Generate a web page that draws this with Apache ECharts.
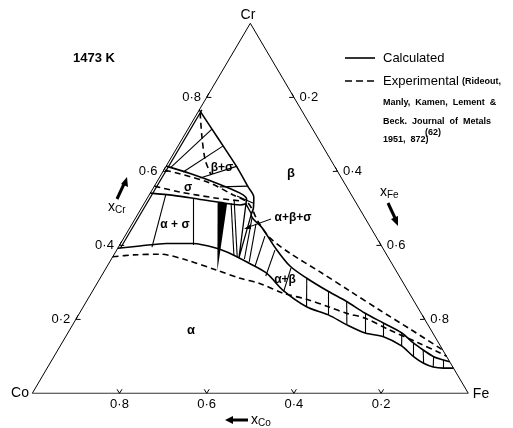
<!DOCTYPE html>
<html><head><meta charset="utf-8">
<script src="https://cdn.jsdelivr.net/npm/echarts@6/dist/echarts.min.js"></script>
<style>html,body{margin:0;padding:0;background:#fff}#c{width:513px;height:428px}</style>
</head><body><div id="c"></div>
<script>
// All compositions are [x_Cr, x_Fe]  (x_Co = 1 - x_Cr - x_Fe)
const ticks = [0.2, 0.4, 0.6, 0.8];
const tickText = ['0·2', '0·4', '0·6', '0·8'];
const triangleEdge = [[0,0],[0,1],[1,0],[0,0]];
// calculated beta boundary (beta / beta+sigma and beta / alpha+beta)
const betaBoundary = [[0.766,0.000],[0.716,0.053],[0.668,0.104],[0.612,0.163],[0.558,0.216],[0.530,0.243],[0.500,0.257],[0.482,0.261],[0.447,0.304],[0.393,0.361],[0.344,0.419],[0.311,0.474],[0.275,0.542],[0.248,0.597],[0.217,0.654],[0.190,0.710],[0.163,0.766],[0.136,0.806],[0.117,0.838],[0.099,0.871],[0.090,0.898],[0.085,0.915]];
// calculated alpha boundary
const alphaBoundary = [[0.392,0.000],[0.398,0.048],[0.405,0.105],[0.405,0.166],[0.392,0.227],[0.374,0.274],[0.351,0.323],[0.324,0.376],[0.279,0.435],[0.234,0.512],[0.212,0.573],[0.185,0.629],[0.163,0.682],[0.153,0.729],[0.128,0.783],[0.099,0.825],[0.081,0.857],[0.071,0.884],[0.068,0.909],[0.068,0.932]];
// calculated sigma phase field
const sigmaUpper = [[0.614,0.000],[0.594,0.065],[0.568,0.139],[0.541,0.206],[0.525,0.229],[0.512,0.234]];
const sigmaLower = [[0.541,0.000],[0.535,0.056],[0.524,0.123],[0.516,0.172],[0.509,0.222],[0.512,0.234]];
const edgeInner = [[0.392,0.006],[0.766,0.006]];
// experimental boundaries
const alphaExp = [[0.369,0.000],[0.374,0.045],[0.376,0.105],[0.360,0.174],[0.333,0.256],[0.311,0.321],[0.297,0.373],[0.271,0.439],[0.254,0.502],[0.234,0.562],[0.216,0.613],[0.203,0.662],[0.171,0.734],[0.136,0.818],[0.109,0.881],[0.100,0.900]];
const betaExp = [[0.603,0.003],[0.572,0.114],[0.536,0.193],[0.514,0.238],[0.463,0.287],[0.420,0.335],[0.379,0.401],[0.328,0.496],[0.276,0.591],[0.225,0.684],[0.174,0.779],[0.117,0.883]];
const sigmaExpLower = [[0.560,0.000],[0.544,0.067],[0.528,0.155],[0.520,0.216]];
const betaSigmaExp = [[0.758,0.006],[0.694,0.042],[0.631,0.081],[0.590,0.115]];
// tie lines
const tieLines = [
  [[0.609,0.012],[0.714,0.055]],[[0.598,0.047],[0.668,0.103]],[[0.582,0.094],[0.614,0.163]],[[0.558,0.151],[0.560,0.215]],[[0.533,0.203],[0.514,0.249]],
  [[0.395,0.077],[0.536,0.038]],[[0.401,0.168],[0.528,0.105]],[[0.368,0.286],[0.520,0.203]],[[0.371,0.277],[0.514,0.199]],
  [[0.474,0.267],[0.363,0.305]],[[0.458,0.284],[0.355,0.320]],
  [[0.425,0.321],[0.344,0.339]],[[0.387,0.363],[0.317,0.377]],[[0.339,0.424],[0.275,0.439]],
  [[0.311,0.474],[0.234,0.512]],[[0.275,0.542],[0.212,0.573]],[[0.248,0.597],[0.185,0.629]],[[0.217,0.654],[0.163,0.682]],
  [[0.190,0.710],[0.153,0.729]],[[0.163,0.766],[0.128,0.783]],[[0.136,0.806],[0.099,0.825]],[[0.117,0.838],[0.081,0.857]],
  [[0.099,0.871],[0.071,0.884]],[[0.090,0.898],[0.068,0.909]]
];
const threePhase = [[0.512,0.234],[0.485,0.260],[0.366,0.291],[0.512,0.234]];
const wedge = [[0.514,0.168],[0.514,0.190],[0.331,0.259]];

const P = c => [c[1] + c[0] / 2, c[0]];
const chart = echarts.init(document.getElementById('c'));
const FONT = '"Liberation Sans", Arial, sans-serif';
function curve(arr, w, dashed, smooth) {
  return {type:'line', data: arr.map(P), symbol:'none', smooth: smooth === undefined ? 0.3 : smooth, silent:true,
    lineStyle:{color:'#000', width:w, type: dashed ? [6,4] : 'solid'}, z: 3};
}
const tickData = [];
ticks.forEach((v,i) => {
  tickData.push([P([v,0])[0], P([v,0])[1], 0, i]);
  tickData.push([P([1-v,v])[0], P([1-v,v])[1], 1, i]);
  tickData.push([P([0,1-v])[0], P([0,1-v])[1], 2, i]);
});
const series = [
  curve(triangleEdge, 1, false, 0),
  curve(betaBoundary, 1.6),
  curve(alphaBoundary, 1.6),
  curve(sigmaUpper, 1.6),
  curve(sigmaLower, 1.6),
  curve(edgeInner, 1.2, false, 0),
  curve(alphaExp, 1.6, true),
  curve(betaExp, 1.6, true),
  curve(sigmaExpLower, 1.6, true),
  curve(betaSigmaExp, 1.6, true),
  curve(threePhase, 1.3, false, 0),
  {type:'lines', coordinateSystem:'cartesian2d', silent:true, z:3,
   lineStyle:{color:'#000', width:1.1, opacity:1},
   data: tieLines.map(t => ({coords: t.map(P)}))},
  {type:'custom', silent:true, z:4, data:[[0,0]],
   renderItem: (params, api) => ({type:'polygon', shape:{points: wedge.map(c => api.coord(P(c)))}, style:{fill:'#000'}})},
  {type:'custom', silent:true, z:4, data: tickData,
   renderItem: (params, api) => {
     const p = api.coord([api.value(0), api.value(1)]);
     const e = api.value(2);
     const n = e === 0 ? [0.86,-0.5] : e === 1 ? [-0.86,-0.5] : [0,-1];
     const t = [-n[1], n[0]];
     const L = 4, s = 2.5;
     const a = [p[0] + n[0]*L + t[0]*s, p[1] + n[1]*L + t[1]*s];
     const b = [p[0] + n[0]*L - t[0]*s, p[1] + n[1]*L - t[1]*s];
     return {type:'polyline', shape:{points:[a, p, b]}, style:{stroke:'#000', lineWidth:1, fill:null}};
   }}
];
chart.setOption({
  animation:false,
  grid:{left:32.3, top:23.3, width:436, height:370},
  xAxis:{type:'value', min:0, max:1, show:false},
  yAxis:{type:'value', min:0, max:1, show:false},
  series
});

const g = [];
const txt = (x, y, s, size, weight, align, extra) => g.push(Object.assign({type:'text', x, y, z:10,
  style:{text:s, font:(weight||'normal') + ' ' + size + 'px ' + FONT, fill:'#000', textAlign:align||'center', textVerticalAlign:'middle'}}, extra||{}));
const px = c => chart.convertToPixel({gridIndex:0}, P(c));
ticks.forEach((v,i) => {
  let p = px([v,0]); txt(p[0]-15, p[1], tickText[i], 13);
  p = px([1-v,v]); txt(p[0]+15, p[1], tickText[i], 13);
  p = px([0,1-v]); txt(p[0], p[1]+11, tickText[i], 13);
});
txt(248, 15, 'Cr', 14);
txt(20, 393, 'Co', 14);
txt(481, 394, 'Fe', 14);
txt(73, 58, '1473 K', 13, 'bold', 'left');
txt(291, 173, 'β', 13, 'bold');
txt(191, 330, 'α', 13, 'bold');
txt(175, 225, 'α + σ', 12, 'bold');
txt(188, 188, 'σ', 12, 'bold');
txt(222, 168, 'β+σ', 12, 'bold');
txt(293, 218, 'α+β+σ', 12, 'bold');
txt(285, 280, 'α+β', 12, 'bold');
g.push({type:'line', z:10, shape:{x1:271, y1:219, x2:246, y2:228}, style:{stroke:'#000', lineWidth:1}});
g.push({type:'polygon', z:10, shape:{points:[[244,229],[251,224],[251,229]]}, style:{fill:'#000'}});
g.push({type:'line', z:10, shape:{x1:345, y1:58, x2:375, y2:58}, style:{stroke:'#000', lineWidth:1.6}});
g.push({type:'line', z:10, shape:{x1:345, y1:81, x2:375, y2:81}, style:{stroke:'#000', lineWidth:1.6, lineDash:[7,4]}});
txt(383, 58, 'Calculated', 13, 'normal', 'left');
txt(383, 81, 'Experimental', 13, 'normal', 'left');
txt(462, 82, '(Rideout,', 9, 'bold', 'left');
txt(383, 103, 'Manly,  Kamen,  Lement  &', 9, 'bold', 'left');
txt(383, 122, 'Beck.  Journal  of  Metals', 9, 'bold', 'left');
txt(383, 140, '1951,  872)', 9, 'bold', 'left');
txt(425, 133, '(62)', 9, 'bold', 'left');
g.push({type:'line', z:10, shape:{x1:248, y1:420, x2:232, y2:420}, style:{stroke:'#000', lineWidth:3}});
g.push({type:'polygon', z:10, shape:{points:[[225,420],[233,416],[233,424]]}, style:{fill:'#000'}});
g.push({type:'text', x:251, y:420, z:10, style:{text:'{a|x}{b|Co}', textVerticalAlign:'middle', rich:{a:{font:'14px '+FONT, fill:'#000'}, b:{font:'10px '+FONT, fill:'#000', padding:[6,0,0,0]}}}});
g.push({type:'line', z:10, shape:{x1:117, y1:199, x2:124, y2:184}, style:{stroke:'#000', lineWidth:3}});
g.push({type:'polygon', z:10, shape:{points:[[127,177],[121,184],[128,187]]}, style:{fill:'#000'}});
g.push({type:'text', x:108, y:207, z:10, style:{text:'{a|x}{b|Cr}', textVerticalAlign:'middle', rich:{a:{font:'14px '+FONT, fill:'#000'}, b:{font:'10px '+FONT, fill:'#000', padding:[6,0,0,0]}}}});
g.push({type:'line', z:10, shape:{x1:388, y1:203, x2:395, y2:218}, style:{stroke:'#000', lineWidth:3}});
g.push({type:'polygon', z:10, shape:{points:[[398,226],[391,219],[398,216]]}, style:{fill:'#000'}});
g.push({type:'text', x:380, y:192, z:10, style:{text:'{a|x}{b|Fe}', textVerticalAlign:'middle', rich:{a:{font:'14px '+FONT, fill:'#000'}, b:{font:'10px '+FONT, fill:'#000', padding:[6,0,0,0]}}}});
chart.setOption({graphic: g});
</script></body></html>
